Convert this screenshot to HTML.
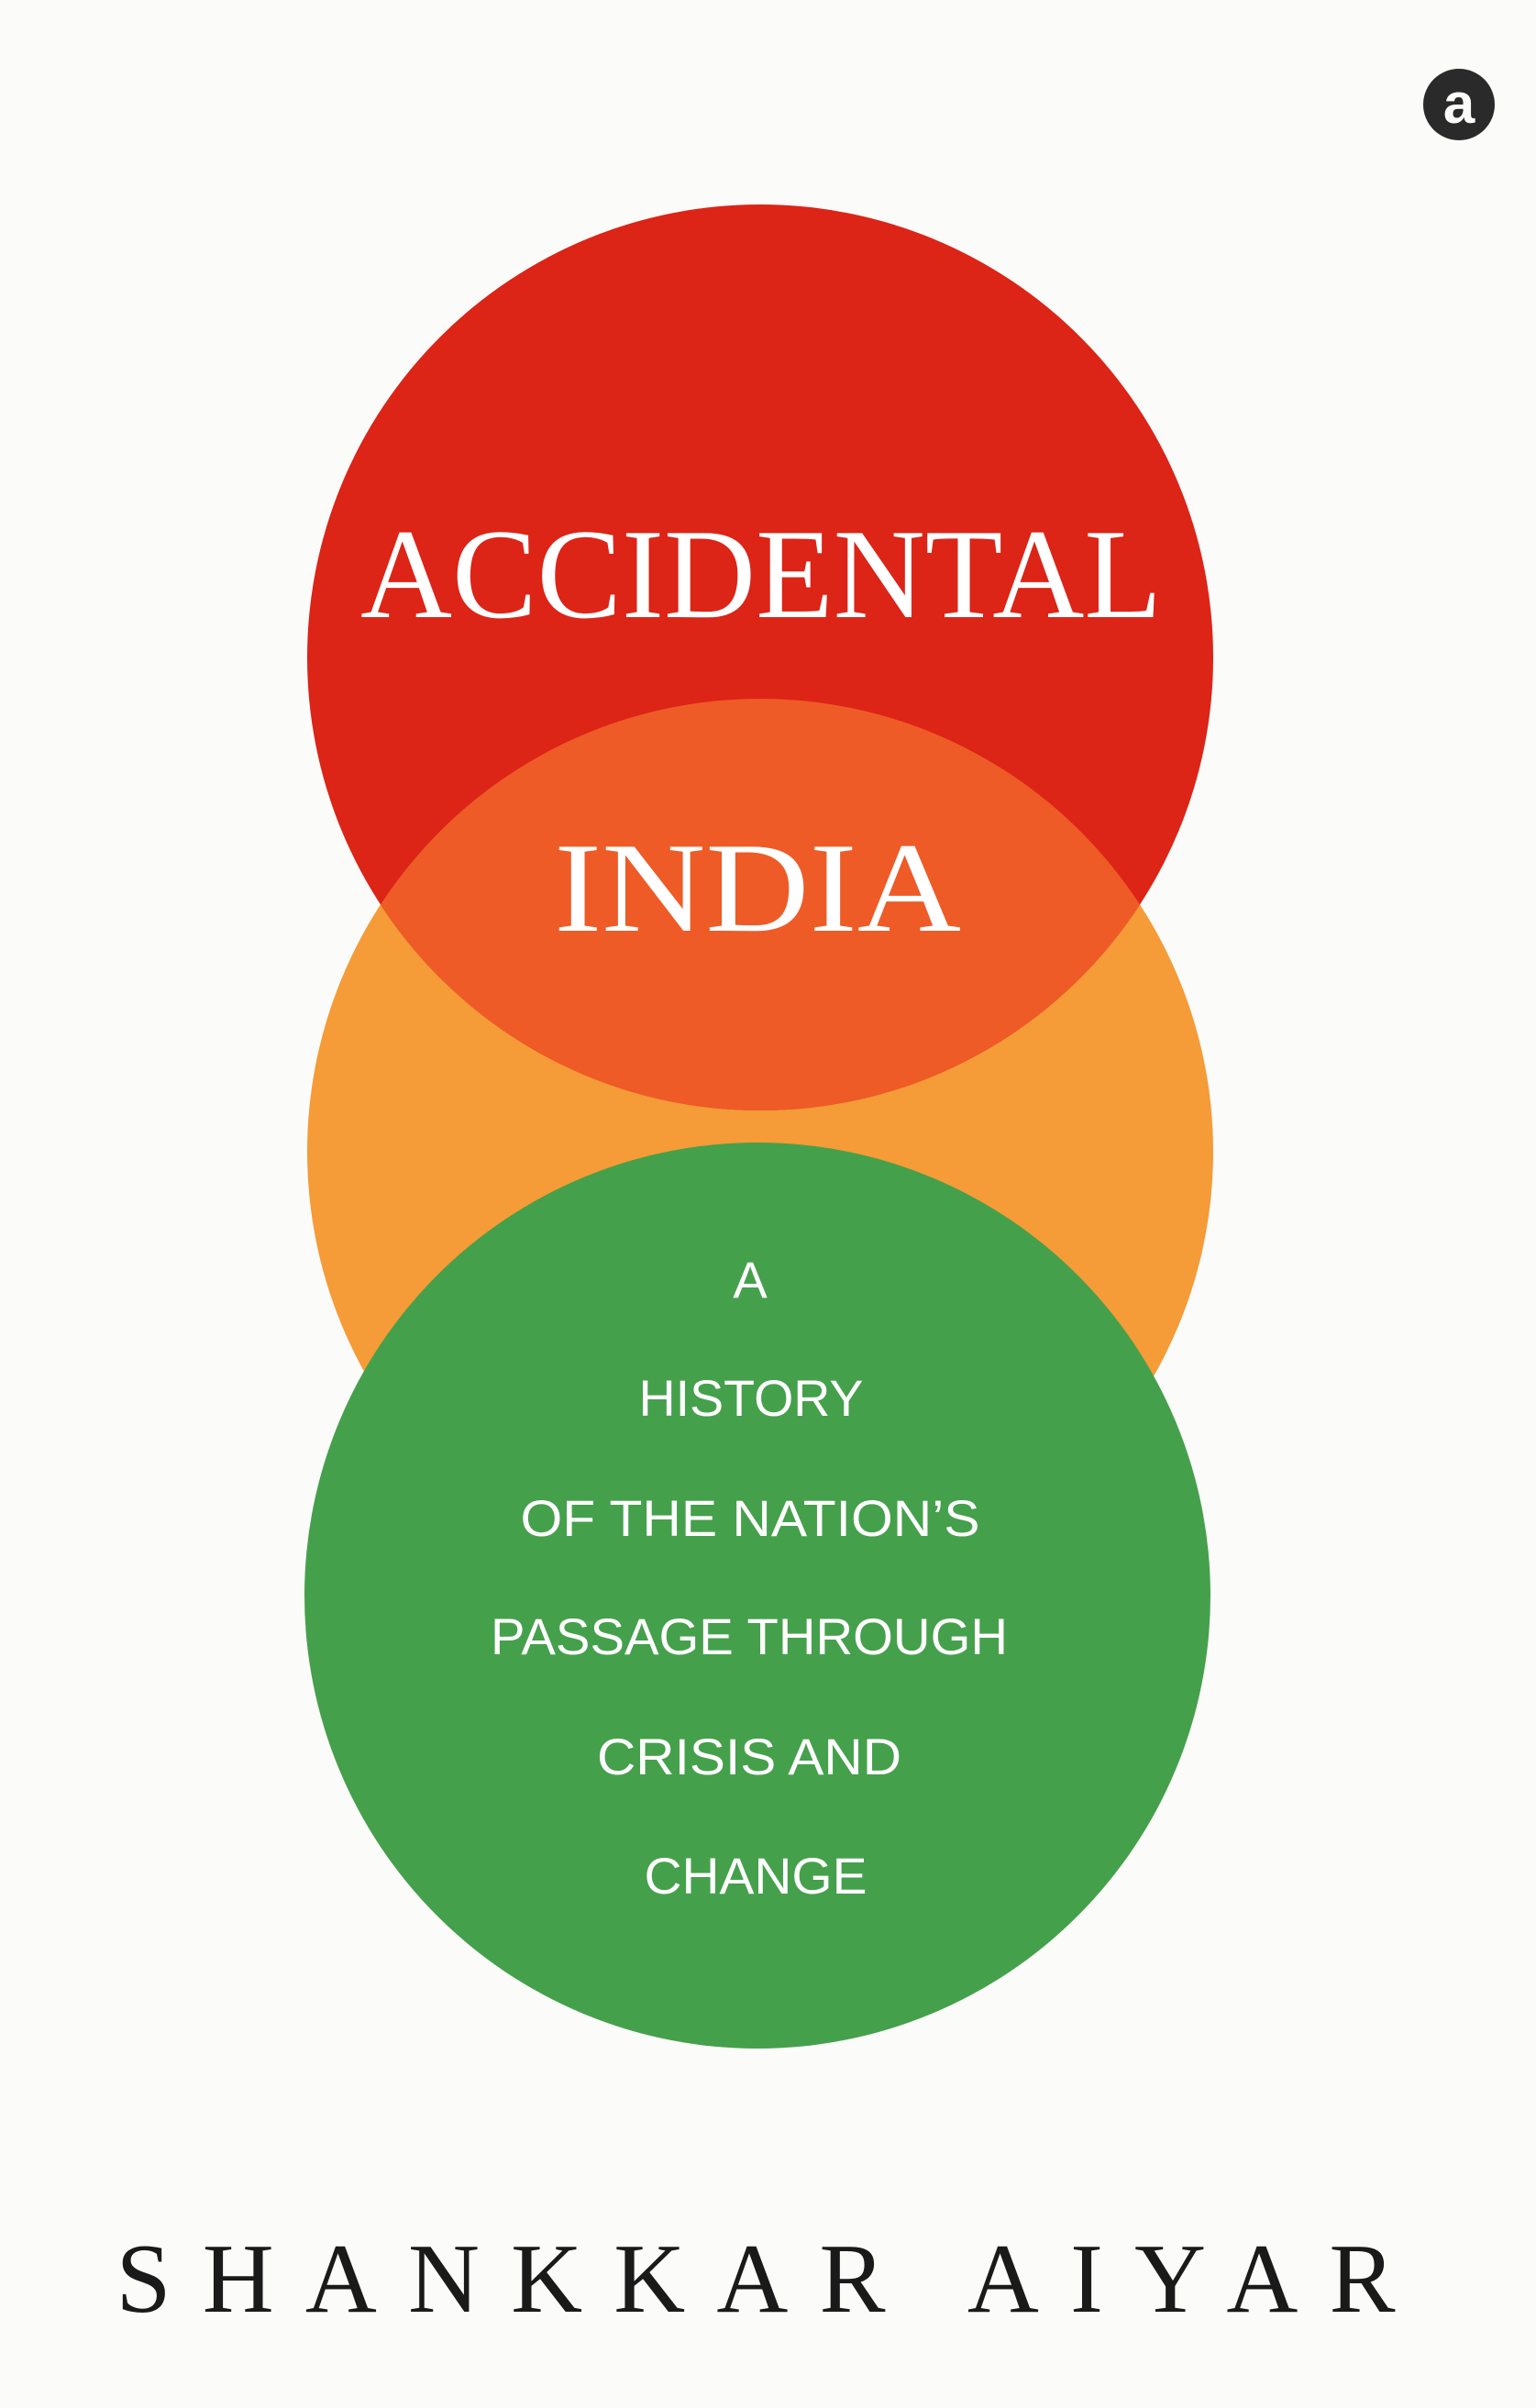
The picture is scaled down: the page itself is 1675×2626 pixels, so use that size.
<!DOCTYPE html>
<html><head><style>html,body{margin:0;padding:0;background:#fbfbf9;}svg{display:block}</style></head>
<body>
<svg width="1675" height="2626" viewBox="0 0 1675 2626" xmlns="http://www.w3.org/2000/svg">
<rect width="1675" height="2626" fill="#fbfbf9"/>
<defs>
<clipPath id="cr"><circle cx="829" cy="717" r="494"/></clipPath>
</defs>
<circle cx="829" cy="1256" r="494" fill="#f59b38"/>
<circle cx="829" cy="717" r="494" fill="#dc2417"/>
<circle cx="829" cy="1256" r="494" fill="#ee5b27" clip-path="url(#cr)"/>
<circle cx="826" cy="1740" r="494" fill="#45a04b"/>
<g fill="#ffffff" font-family="Liberation Serif, serif" text-anchor="middle">
<text x="830" y="673" font-size="140" textLength="874" lengthAdjust="spacingAndGlyphs">ACCIDENTAL</text>
<text x="826" y="1015" font-size="140" textLength="444" lengthAdjust="spacingAndGlyphs">INDIA</text>
</g>
<g fill="#ffffff" font-family="Liberation Sans, sans-serif" font-size="56" text-anchor="middle">
<text x="818" y="1415">A</text>
<text x="819" y="1544" textLength="245" lengthAdjust="spacingAndGlyphs">HISTORY</text>
<text x="818" y="1675" textLength="501" lengthAdjust="spacingAndGlyphs">OF THE NATION’S</text>
<text x="817" y="1804" textLength="564" lengthAdjust="spacingAndGlyphs">PASSAGE THROUGH</text>
<text x="817" y="1935" textLength="332" lengthAdjust="spacingAndGlyphs">CRISIS AND</text>
<text x="824" y="2065" textLength="243" lengthAdjust="spacingAndGlyphs">CHANGE</text>
</g>
<text x="824" y="2521" font-family="Liberation Serif, serif" font-size="108" fill="#1a1a1a" text-anchor="middle" textLength="1395" lengthAdjust="spacing">SHANKKAR AIYAR</text>
<circle cx="1591" cy="114" r="39" fill="#2a2a2a"/>
<text x="1591" y="134" font-family="Liberation Sans, sans-serif" font-weight="bold" font-size="62" fill="#fbfbf9" text-anchor="middle">a</text>
</svg>
</body></html>
